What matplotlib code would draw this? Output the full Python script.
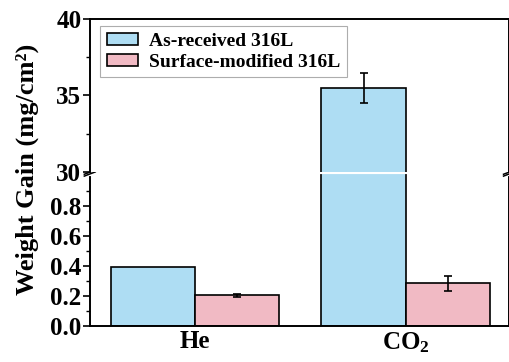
import matplotlib.pyplot as plt
import numpy as np
from matplotlib.patches import Patch

plt.rcParams['font.family'] = ['Liberation Serif', 'DejaVu Serif']
plt.rcParams['font.weight'] = 'bold'
plt.rcParams['mathtext.fontset'] = 'custom'
plt.rcParams['mathtext.rm'] = 'Liberation Serif:bold'
plt.rcParams['mathtext.bf'] = 'Liberation Serif:bold'

# data
gases = ['He', r'$\mathbf{CO_2}$']
series = ['As-received 316L', 'Surface-modified 316L']
as_received = [0.395, 35.5]
as_received_err = [0.0, 1.0]
surface_mod = [0.205, 0.285]
surface_mod_err = [0.01, 0.05]

colors = ['#AEDDF3', '#F1BAC4']

fig = plt.figure(figsize=(5.1, 3.62), dpi=100)
left, right = 0.176, 0.998
y_bot, y_brk, y_top = 0.0994, 0.525, 0.9475
ax_lo = fig.add_axes([left, y_bot, right - left, y_brk - y_bot])
ax_hi = fig.add_axes([left, y_brk, right - left, y_top - y_brk])

x = np.arange(len(gases))
w = 0.4
ekw = dict(fmt='none', ecolor='black', elinewidth=1.2, capsize=3, capthick=1.2)
for ax in (ax_lo, ax_hi):
    ax.bar(x - w / 2, as_received, w, color=colors[0], edgecolor='black', linewidth=1.2)
    ax.bar(x + w / 2, surface_mod, w, color=colors[1], edgecolor='black', linewidth=1.2)
    for i in range(len(x)):
        if as_received_err[i] > 0:
            ax.errorbar(x[i] - w / 2, as_received[i], yerr=as_received_err[i], **ekw)
        if surface_mod_err[i] > 0:
            ax.errorbar(x[i] + w / 2, surface_mod[i], yerr=surface_mod_err[i], **ekw)
    ax.set_xlim(-0.5, 1.49)
    for s in ax.spines.values():
        s.set_linewidth(1.4)
    ax.tick_params(axis='y', which='major', direction='out', length=5, width=1.2,
                   labelsize=18, pad=1)
    ax.tick_params(axis='y', which='minor', direction='out', length=3, width=1.0)

ax_lo.set_ylim(0, 1.03)
ax_lo.set_yticks([0.0, 0.2, 0.4, 0.6, 0.8])
ax_lo.set_yticks([0.1, 0.3, 0.5, 0.7, 0.9], minor=True)
ax_lo.set_yticklabels(['0.0', '0.2', '0.4', '0.6', '0.8'])
ax_lo.spines['top'].set_visible(False)
ax_lo.set_xticks(x)
ax_lo.set_xticklabels(gases, fontsize=18)
ax_lo.tick_params(axis='x', length=0, pad=3)

ax_hi.set_ylim(30, 40)
ax_hi.set_yticks([30, 35, 40])
ax_hi.set_yticks([32.5, 37.5], minor=True)
ax_hi.spines['bottom'].set_visible(False)
ax_hi.set_xticks([])

# white gap through the tall bar at the break
ax_lo.plot([x[1] - w - 0.01, x[1] + 0.01], [1.03, 1.03], color='white', lw=3,
           clip_on=False, zorder=10, solid_capstyle='butt')

# break marks on spines
for xa in (0.0, 1.0):
    ax_lo.plot([xa, xa], [0.985, 1.0], transform=ax_lo.transAxes, color='white',
               lw=3, clip_on=False, zorder=11)
    for dy in (-0.012, 0.0):
        ax_lo.plot([xa - 0.013, xa + 0.013], [0.985 + dy, 1.0 + dy + 0.012],
                   transform=ax_lo.transAxes, color='black', lw=1.1,
                   clip_on=False, zorder=12)

handles = [Patch(facecolor=c, edgecolor='black', linewidth=1.2) for c in colors]
leg = ax_hi.legend(handles, series, loc='upper left', bbox_to_anchor=(0.024, 0.955),
                   fontsize=14, frameon=True, fancybox=False, handlelength=1.6,
                   handleheight=0.6, borderpad=0.35, labelspacing=0.2,
                   handletextpad=0.6, borderaxespad=0)
leg.get_frame().set_edgecolor('#999999')
leg.get_frame().set_linewidth(0.8)

fig.text(0.053, 0.533, 'Weight Gain (mg/cm²)', rotation=90, fontsize=19,
         fontweight='bold', ha='center', va='center')

fig.savefig('out.png', dpi=100)
